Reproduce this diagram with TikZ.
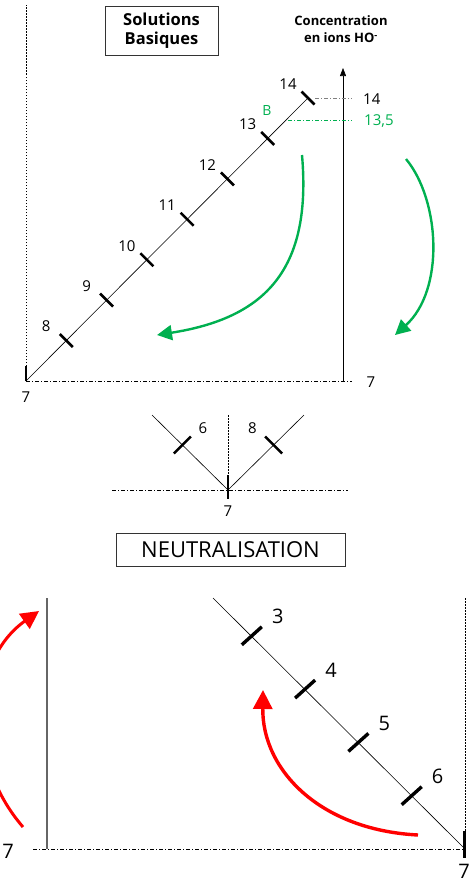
\documentclass[tikz,border=0pt]{standalone}
\usepackage{fontspec}
\setmainfont{Open Sans}
\usetikzlibrary{positioning,arrows.meta,calc}
\definecolor{basevert}{HTML}{00B050}
\definecolor{acidrouge}{HTML}{FF0000}

\begin{document}
\begin{tikzpicture}[x=1pt,y=-1pt,
 cadre/.style={draw=black!80,line width=0.8pt,align=center,inner sep=0pt},
 num/.style={font=\fontsize{15}{15}\selectfont,inner sep=0pt},
 gnum/.style={font=\fontsize{20}{20}\selectfont,inner sep=0pt},
 trait/.style={line width=0.6pt},
 tiret/.style={line width=0.6pt,dash pattern=on 4pt off 2pt on 1pt off 2pt},
 pointille/.style={line width=0.6pt,dash pattern=on 1.5pt off 1.5pt},
 grad/.style={line width=2.6pt},
 fleche/.style={line width=2.4pt,-{Triangle[length=15pt,width=15pt]}}]
\clip (0,0) rectangle (472,878);

% --- solutions basiques
\node[cadre,minimum width=113pt,minimum height=49pt,font=\bfseries\fontsize{16.5}{19.5}\selectfont] (basiques) at (161.5,30.5) {Solutions\\Basiques};
\node[align=center,inner sep=0pt,font=\bfseries\fontsize{13}{17.5}\selectfont] (titreaxe) at (341,29) {Concentration\\en ions HO\textsuperscript{-}};

\coordinate (p7) at (26,381);
\coordinate (p14) at (308,98);
\coordinate (v7) at (26,5);
\draw[pointille] (p7) -- (v7);
\draw[trait] (p7) -- (p14);
\draw[line width=1.4pt] (p7) -- ++(0,-15);
\foreach \v [count=\k] in {8,...,14}{
 \coordinate (p\v) at ($(p7)!{\k/7}!(p14)$);
 \draw[grad] ($(p\v)+(-6.5,-6.5)$) -- ($(p\v)+(6.5,6.5)$);
 \node[num] (labh\v) at ($(p\v)+(-20,-14)$) {\v};
}
\coordinate (ax0) at (343,381);
\coordinate (axT) at (343,68);
\draw[trait,-{Triangle[length=8pt,width=6pt]}] (ax0) -- (axT);
\coordinate (d14) at (315,98);
\coordinate (g14) at (352,98);
\draw[tiret,gray] (d14) -- (g14);
\node[num,anchor=west] (val14) at (363,99) {14};
\coordinate (p135) at (288,120);
\coordinate (g135) at (352,120);
\draw[tiret,basevert] (p135) -- (g135);
\node[num,basevert,font=\fontsize{14}{14}\selectfont] (nomB) at (267,111) {B};
\node[num,basevert,anchor=west] (val135) at (364,121) {13,5};
\coordinate (h7) at (352,381);
\draw[tiret] (p7) -- (h7);
\node[num] (val7) at (371,382) {7};
\node[num] (zero7) at (26,397) {7};
% fleches vertes
\draw[fleche,basevert] (302,155) .. controls (312,270) and (265,318) .. (157,335);
\draw[fleche,basevert] (406,159) .. controls (440,200) and (445,290) .. (395,335);

% --- neutralisation
\coordinate (m7) at (228,490);
\coordinate (mg) at (152,415);
\coordinate (md) at (304,415);
\coordinate (mv) at (228,415);
\coordinate (mhg) at (112,490);
\coordinate (mhd) at (348,490);
\draw[tiret] (mhg) -- (mhd);
\draw[pointille] (mv) -- (m7);
\draw[trait] (mg) -- (m7) -- (md);
\coordinate (m6) at ($(m7)!0.6!(mg)$);
\coordinate (m8) at ($(m7)!0.6!(md)$);
\draw[grad] ($(m6)+(-8.5,8.5)$) -- ($(m6)+(8.5,-8.5)$);
\draw[grad] ($(m8)+(-8.5,-8.5)$) -- ($(m8)+(8.5,8.5)$);
\draw[grad] (228,475) -- (228,499);
\node[num] (labm6) at (203,428) {6};
\node[num] (labm8) at (252.5,428) {8};
\node[num] (labm7) at (228,511) {7};
\node[cadre,minimum width=229pt,minimum height=33pt,font=\fontsize{22}{22}\selectfont] (neutre) at (230.5,549.5) {NEUTRALISATION};

% --- solutions acides
\coordinate (q7) at (465,849);
\coordinate (qhaut) at (213,598);
\coordinate (qv) at (465,598);
\coordinate (ag) at (33,849);
\coordinate (ab) at (47,849);
\coordinate (aT) at (47,598);
\draw[pointille] (qv) -- (q7);
\draw[line width=1.2pt,black!60] (ab) -- (aT);
\draw[tiret] (ag) -- (q7);
\draw[trait] (qhaut) -- (q7);
\foreach \v [count=\k] in {6,5,4,3}{
 \coordinate (q\v) at ($(q7)+(-53.3*\k,-53.3*\k)$);
 \draw[grad,line width=3.4pt] ($(q\v)+(-10,9)$) -- ($(q\v)+(10,-9)$);
 \node[gnum] (labb\v) at ($(q\v)+(26,-19)$) {\v};
}
\draw[grad,line width=3.6pt] (464.5,831) -- (464.5,858);
\node[gnum] (acid7) at (8,851) {7};
\node[gnum] (bas7) at (464,871) {7};
% fleches rouges
\draw[fleche,acidrouge,line width=3.4pt,-{Triangle[length=19pt,width=19pt]}] (418,835) .. controls (320,830) and (262,770) .. (263,690);
\draw[fleche,acidrouge,line width=3pt,-{Triangle[length=18pt,width=18pt]}] (23,827) .. controls (-35,760) and (-30,660) .. (39,611);
\end{tikzpicture}
\end{document}
